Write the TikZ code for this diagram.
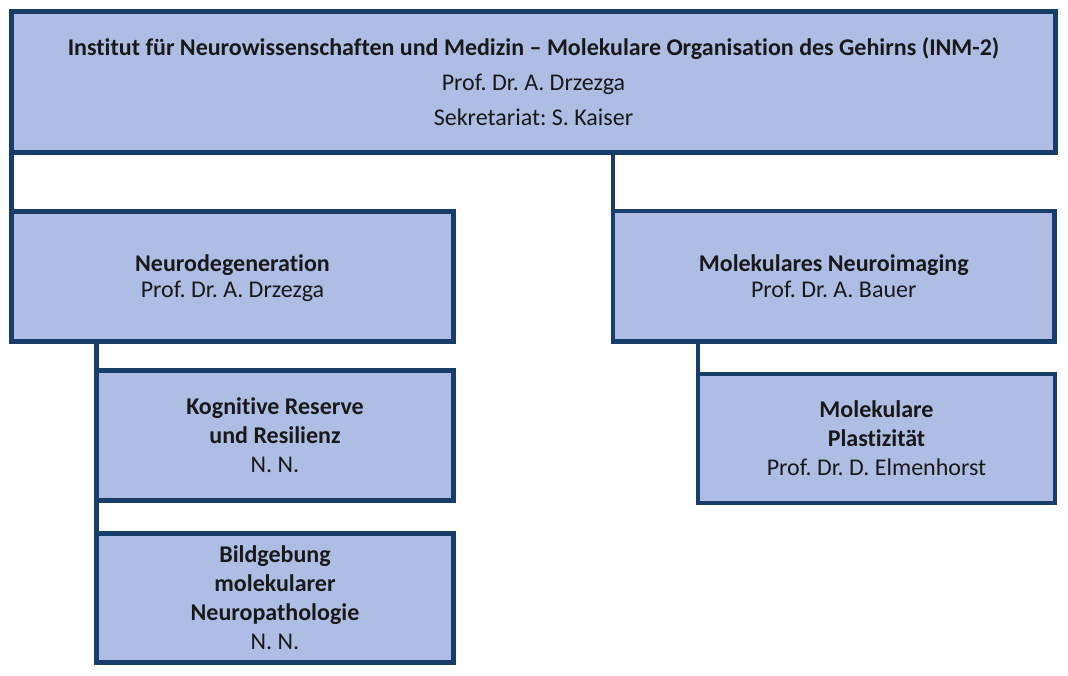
\documentclass[tikz,border=0pt]{standalone}
\usepackage{fontspec}
\setmainfont{Carlito}[Ligatures=NoCommon]
\usetikzlibrary{positioning}
\definecolor{boxfill}{RGB}{174,189,228}
\definecolor{boxline}{RGB}{22,61,108}
\frenchspacing
\tikzset{
  unit/.style={draw=boxline, fill=boxfill, line width=4.5pt, inner sep=0pt,
    outer sep=0pt, align=center, anchor=north west, text=black!90,
    font=\fontsize{24}{29}\selectfont},
  link/.style={draw=boxline, line width=4.5pt}
}
\begin{document}
\begin{tikzpicture}[x=1pt,y=-1pt]
    \useasboundingbox (0,0) rectangle (1068,676);
    % institute
    \node[unit, minimum width=1044pt, minimum height=141pt,
      font=\fontsize{24}{35}\selectfont] (inm) at (11.5,11.5)
      {\textbf{Institut für Neurowissenschaften und Medizin – Molekulare Organisation des Gehirns (INM-2)}\\
       Prof. Dr. A. Drzezga\\ Sekretariat: S. Kaiser};

    % left branch
    \node[unit, minimum width=442pt, minimum height=130pt, text depth=-1pt,
      font=\fontsize{24}{26}\selectfont] (neuro) at (11.5,211.5)
      {\textbf{Neurodegeneration}\\ Prof. Dr. A. Drzezga};
    \node[unit, minimum width=357pt, minimum height=130pt, text depth=-6pt] (reserve) at (96.5,370.5)
      {\textbf{Kognitive Reserve}\\ \textbf{und Resilienz}\\ N. N.};
    \node[unit, minimum width=357pt, minimum height=129pt, text depth=-6pt] (patho) at (96.5,533.5)
      {\textbf{Bildgebung}\\ \textbf{molekularer}\\ \textbf{Neuropathologie}\\ N. N.};

    % right branch
    \node[unit, minimum width=441.5pt, minimum height=130.5pt,
      font=\fontsize{24}{26}\selectfont] (imaging) at (613,211)
      {\textbf{Molekulares Neuroimaging}\\ Prof. Dr. A. Bauer};
    \node[unit, minimum width=357pt, minimum height=129pt] (plast) at (698,374)
      {\textbf{Molekulare}\\ \textbf{Plastizität}\\ Prof. Dr. D. Elmenhorst};

    % links
    \draw[link] (neuro.north west) -- (neuro.north west |- inm.south);
    \draw[link] (imaging.north west) -- (imaging.north west |- inm.south);
    \draw[link] (patho.north west) -- (patho.north west |- neuro.south);
    \draw[link] (plast.north west) -- (plast.north west |- imaging.south);
\end{tikzpicture}
\end{document}
